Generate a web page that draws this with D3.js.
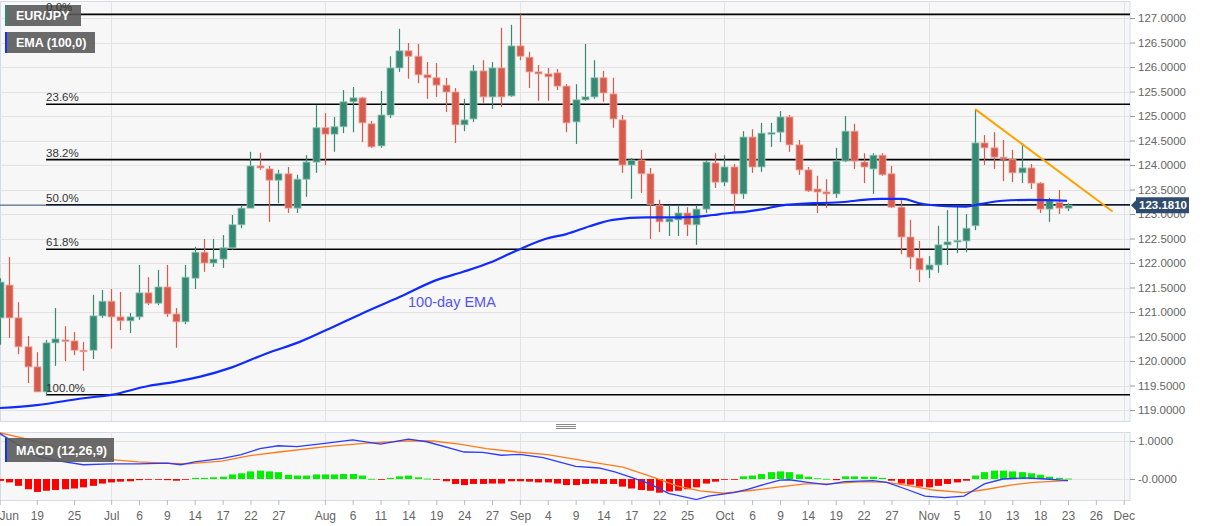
<!DOCTYPE html>
<html><head><meta charset="utf-8">
<script src="https://cdn.jsdelivr.net/npm/d3@7"></script>
<style>body{margin:0;background:#fff;}svg{display:block;font-family:"Liberation Sans",Arial,sans-serif;}</style>
</head><body><svg id="c" width="1207" height="526"></svg>
<script>
// ---------- DATA ----------
const opens=[120.88,121.55,120.88,120.29,119.88,119.37,120.37,120.43,120.41,120.22,
120.22,120.92,121.22,120.90,120.82,120.90,121.39,121.18,121.51,120.96,
120.80,121.69,122.22,122.00,122.08,122.31,122.78,123.12,123.98,123.92,
123.69,123.82,123.12,123.71,124.06,124.76,124.63,124.78,125.29,125.37,
124.84,124.39,125.02,125.98,126.33,126.22,125.84,125.78,125.63,125.49,
124.82,124.94,125.92,125.39,125.98,125.41,126.43,126.20,125.90,125.86,
125.88,125.61,124.88,125.33,125.39,125.78,125.45,124.92,124.00,124.10,
123.82,123.18,122.84,122.88,123.02,122.78,123.10,124.04,123.65,123.96,
123.41,124.57,123.96,124.64,124.67,124.98,124.41,123.90,123.51,123.45,
123.41,124.08,124.69,124.06,123.92,124.20,123.82,123.14,122.53,122.10,
121.86,121.96,122.37,122.44,122.45,122.76,124.45,124.35,124.16,124.12,
123.84,123.94,123.63,123.10,123.24,123.12];
const highs=[121.69,122.12,121.20,120.51,120.18,120.43,121.08,120.71,120.59,120.39,
121.35,121.45,121.47,121.41,120.98,121.96,121.71,121.86,121.96,121.08,
121.96,122.33,122.49,122.49,122.57,122.98,123.18,124.27,124.25,123.98,
123.90,123.96,123.80,124.20,125.22,125.06,124.98,125.53,125.59,125.39,
124.90,125.51,126.22,126.78,126.49,126.47,126.10,126.08,125.78,125.57,
125.35,126.04,126.14,126.10,126.80,126.86,127.075,126.31,126.04,125.98,
125.96,125.65,125.65,126.47,126.14,125.92,125.78,125.02,124.14,124.31,
123.94,123.29,123.18,123.16,123.14,123.18,124.10,124.24,124.20,124.02,
124.69,124.73,124.86,124.86,125.10,125.02,124.51,123.96,123.78,123.71,
124.35,125.00,124.84,124.24,124.24,124.24,123.98,123.29,122.88,122.45,
122.14,122.76,123.08,123.18,123.00,125.14,124.61,124.67,124.51,124.31,
124.45,124.02,123.65,123.33,123.49,123.22];
const lows=[120.33,120.47,120.14,119.55,119.37,119.31,119.90,120.00,120.12,119.80,
120.04,120.88,120.25,120.63,120.57,120.84,121.14,121.14,120.90,120.27,
120.75,121.47,121.82,121.92,121.90,122.27,122.71,123.12,123.90,122.84,
123.22,123.02,123.02,123.35,123.84,124.00,124.27,124.65,124.67,124.47,
124.35,124.35,124.96,125.90,125.76,125.67,125.35,125.39,125.08,124.45,
124.69,124.88,125.27,125.14,125.18,125.39,126.14,125.57,125.31,125.31,
125.53,124.67,124.43,125.31,125.35,125.29,124.76,123.84,123.31,123.43,
122.49,122.63,122.55,122.55,122.55,122.37,123.02,123.53,123.57,123.02,
123.31,123.84,123.86,124.37,124.47,124.27,123.80,123.45,123.02,123.12,
123.33,124.06,123.92,123.63,123.41,123.78,123.12,122.18,121.88,121.61,
121.69,121.80,121.96,122.20,122.22,122.67,124.00,123.92,123.67,123.65,
123.63,123.51,123.02,122.84,123.00,123.06];
const closes=[121.61,120.88,120.29,119.88,119.37,120.37,120.45,120.41,120.22,120.20,
120.92,121.22,120.90,120.82,120.90,121.39,121.18,121.51,120.96,120.80,
121.71,122.22,122.00,122.08,122.31,122.78,123.12,123.98,123.94,123.69,
123.82,123.12,123.71,124.06,124.76,124.63,124.78,125.29,125.37,124.86,
124.37,125.02,125.98,126.33,126.22,125.84,125.78,125.63,125.49,124.82,
124.92,125.92,125.39,125.98,125.39,126.43,126.22,125.90,125.86,125.80,
125.61,124.86,125.33,125.39,125.78,125.47,124.94,124.00,124.10,123.82,
123.20,122.84,122.90,123.02,122.78,123.10,124.06,123.65,123.96,123.41,
124.57,123.96,124.65,124.66,124.98,124.41,123.90,123.47,123.45,123.41,
124.08,124.69,124.08,123.96,124.20,123.80,123.14,122.53,122.12,121.86,
121.96,122.37,122.43,122.46,122.71,124.45,124.35,124.16,124.12,123.84,
123.94,123.63,123.10,123.27,123.12,123.181];

// EMA(100): [candle index, price]
const emaIdx=[0,4,9,12,16,19,21.6,25,28.8,32.3,35.6,38.8,43.1,47,49.9,52.8,55.6,58.9,61,63.5,66,69.6,73.2,75,76.8,78.6,80.4,82.2,84,85.8,87.6,89.4,91.2,93,94.8,97.2,99,102,104,105.5,108,110.9,114.9];
const emaVal=[119.04,119.10,119.24,119.31,119.49,119.58,119.68,119.87,120.16,120.39,120.67,120.95,121.31,121.65,121.82,122.01,122.25,122.50,122.59,122.75,122.88,122.93,122.93,122.94,122.98,123.02,123.05,123.10,123.17,123.20,123.22,123.23,123.25,123.29,123.31,123.31,123.22,123.16,123.15,123.20,123.27,123.29,123.27];

// MACD histogram per candle
const histVals=[-0.05,-0.09,-0.18,-0.27,-0.34,-0.31,-0.29,-0.27,-0.25,-0.22,
-0.18,-0.12,-0.09,-0.07,-0.06,-0.03,-0.02,-0.02,-0.03,-0.045,
-0.01,0.03,0.03,0.045,0.06,0.12,0.15,0.2,0.22,0.2,
0.18,0.11,0.09,0.09,0.12,0.12,0.12,0.13,0.13,0.09,
0.005,-0.01,0.03,0.07,0.09,0.045,0.01,-0.02,-0.06,-0.13,
-0.16,-0.13,-0.13,-0.12,-0.12,-0.06,-0.06,-0.07,-0.09,-0.09,
-0.12,-0.16,-0.16,-0.13,-0.12,-0.13,-0.13,-0.2,-0.25,-0.29,
-0.31,-0.36,-0.33,-0.31,-0.27,-0.22,-0.12,-0.07,-0.02,-0.02,
0.07,0.09,0.13,0.18,0.2,0.18,0.12,0.06,0.02,0.005,
-0.03,0.07,0.07,0.06,0.06,0.03,-0.045,-0.12,-0.15,-0.2,
-0.22,-0.18,-0.13,-0.09,-0.045,0.09,0.18,0.22,0.22,0.2,
0.18,0.15,0.11,0.06,0.03,0.01];
// MACD line and signal line: [candle index, value]
const macdIdx=[0,2,4,6,9,12,15,18,19.5,21,24,26,28,30,32,35,38,41,44,46,50,52,54,56,58.5,62,64.5,66.3,68,70,72,75,76.3,79,80.5,82.5,84,85,87,89,91,94,95.5,97.6,99.6,101.7,103.8,106,108,110.5,112.6,115];
const macdVal=[1.2,0.9,0.6,0.49,0.375,0.4,0.4,0.42,0.375,0.45,0.54,0.64,0.8,0.875,0.85,0.94,1.03,0.92,1.05,0.98,0.71,0.70,0.625,0.65,0.56,0.33,0.29,0.18,0.045,-0.13,-0.38,-0.54,-0.45,-0.36,-0.27,-0.13,-0.03,-0.02,-0.09,-0.15,-0.07,-0.045,-0.09,-0.27,-0.45,-0.49,-0.45,-0.13,0,0.03,0,-0.045];
const sigIdx=[0,4.2,8.3,12,14.9,17.8,20.2,23.9,26.8,30.1,35.1,39.2,43.7,46.6,49.5,52.4,55.7,59,64.4,67.1,70.4,72.9,75.4,77.9,81.3,84.2,86.7,89.6,93,95.5,98,100.5,103.8,106.3,108.8,111.3,114.9];
const sigVal=[1.22,0.98,0.69,0.51,0.45,0.42,0.4,0.47,0.61,0.71,0.85,0.94,1.0,1.0,0.92,0.8,0.71,0.64,0.42,0.31,0.045,-0.18,-0.31,-0.375,-0.29,-0.2,-0.13,-0.12,-0.07,-0.09,-0.18,-0.29,-0.36,-0.27,-0.16,-0.09,-0.045];

// Fibonacci retracement
const fibLevels=[127.075,125.24,124.11,123.19,122.28,119.31];
const fibLabels=["0.0%","23.6%","38.2%","50.0%","61.8%","100.0%"];
const fibStartIdx=5;
// Down trendline [index, price]
const trendIdx=[105,119.8];
const trendVal=[125.14,123.05];
const lastPrice=123.181;

// Axis ticks
const priceTicks=[119,119.5,120,120.5,121,121.5,122,122.5,123,123.5,124,124.5,125,125.5,126,126.5,127];
const macdTicks=[0,1];
const macdTickLabels=["-0.0000","1.0000"];
const xTickIdx=[0,4,8,12,15,18,21,24,27,30,35,38,41,44,47,50,53,56,59,62,65,68,71,74,78,81,84,87,90,93,96,100,103,106,109,112,115,118,121];
const xTickLabels=["Jun","19","25","Jul","6","9","14","17","22","27","Aug","6","11","14","19","24","27","Sep","4","9","14","17","22","25","Oct","6","9","14","19","22","27","Nov","5","10","13","18","23","26","Dec"];
const monthIdx=[12,35,56,78,100,121];

// ---------- LAYOUT ----------
const svg=d3.select('#c');
const plotR=1130, mainTop=1, mainBot=421, macdTop=432, macdBot=500;
const x=d3.scaleLinear().domain([0,115]).range([-0.35,1068]);
const y=d3.scaleLinear().domain([119,127]).range([410,18]);
const ym=d3.scaleLinear().domain([0,1]).range([479,441]);

const defs=svg.append('defs');
defs.append('clipPath').attr('id','cm').append('rect').attr('x',0).attr('y',mainTop).attr('width',plotR).attr('height',mainBot-mainTop);
defs.append('clipPath').attr('id','cd').append('rect').attr('x',0).attr('y',macdTop).attr('width',plotR).attr('height',macdBot-macdTop);

// backgrounds
svg.append('rect').attr('x',0.5).attr('y',mainTop+0.5).attr('width',plotR-0.5).attr('height',mainBot-mainTop).attr('fill','#f7f7f7').attr('stroke','#d3dbea');
svg.append('rect').attr('x',0.5).attr('y',macdTop+0.5).attr('width',plotR-0.5).attr('height',macdBot-macdTop).attr('fill','#f7f7f7').attr('stroke','#d3dbea');

const gm=svg.append('g').attr('clip-path','url(#cm)');
const gd=svg.append('g').attr('clip-path','url(#cd)');

// grids
gm.selectAll('.hg').data(priceTicks).join('line').attr('x1',0).attr('x2',plotR)
  .attr('y1',d=>Math.round(y(d))+0.5).attr('y2',d=>Math.round(y(d))+0.5).attr('stroke','#e3e3e3');
gm.selectAll('.vg').data(monthIdx).join('line').attr('x1',d=>Math.round(x(d))+0.5).attr('x2',d=>Math.round(x(d))+0.5)
  .attr('y1',mainTop).attr('y2',mainBot).attr('stroke','#e3e3e3');
gd.selectAll('.hg').data(macdTicks).join('line').attr('x1',0).attr('x2',plotR)
  .attr('y1',d=>Math.round(ym(d))+0.5).attr('y2',d=>Math.round(ym(d))+0.5).attr('stroke','#e3e3e3');
gd.selectAll('.vg').data(monthIdx).join('line').attr('x1',d=>Math.round(x(d))+0.5).attr('x2',d=>Math.round(x(d))+0.5)
  .attr('y1',macdTop).attr('y2',macdBot).attr('stroke','#e3e3e3');

// fibonacci lines
gm.selectAll('.fib').data(fibLevels).join('line').attr('x1',x(fibStartIdx)).attr('x2',plotR)
  .attr('y1',d=>y(d)).attr('y2',d=>y(d)).attr('stroke','#000').attr('stroke-width',1.6);

// last price line
gm.append('line').attr('x1',0).attr('x2',plotR).attr('y1',y(lastPrice)).attr('y2',y(lastPrice)).attr('stroke','#2d4a6b').attr('stroke-width',1);

// candles
const idx=d3.range(opens.length);
const GREEN='#368a73', RED='#d75b4c';
const cg=gm.append('g');
idx.forEach(i=>{
  const up=closes[i]>=opens[i];
  const col=up?GREEN:RED;
  const cx=Math.round(x(i))+0.5;
  cg.append('line').attr('x1',cx).attr('x2',cx).attr('y1',y(highs[i])).attr('y2',y(lows[i])).attr('stroke',col).attr('stroke-width',1.2);
  const top=y(Math.max(opens[i],closes[i])), bot=y(Math.min(opens[i],closes[i]));
  cg.append('rect').attr('x',cx-3.5).attr('y',top).attr('width',7).attr('height',Math.max(1.5,bot-top))
    .attr('fill',col).attr('stroke',up?'#8fc2b4':'#eea39a').attr('stroke-width',0.8);
});

// EMA
gm.append('path').datum(emaIdx.map((d,i)=>[d,emaVal[i]]))
  .attr('d',d3.line().x(d=>x(d[0])).y(d=>y(d[1])).curve(d3.curveMonotoneX))
  .attr('fill','none').attr('stroke','#0f2bff').attr('stroke-width',2.2);
gm.append('text').attr('x',408).attr('y',307).attr('font-size',14.5).attr('fill','#5555ee').text('100-day EMA');

// trendline
gm.append('line').attr('x1',x(trendIdx[0])).attr('y1',y(trendVal[0])).attr('x2',x(trendIdx[1])).attr('y2',y(trendVal[1]))
  .attr('stroke','#ffa200').attr('stroke-width',2);

// legends
function legend(g,x0,y0,w,h,label,bar){
  g.append('rect').attr('x',x0).attr('y',y0).attr('width',w).attr('height',h).attr('fill','#5a5a5a').attr('opacity',0.9);
  g.append('rect').attr('x',x0).attr('y',y0).attr('width',2).attr('height',h).attr('fill',bar);
  g.append('text').attr('x',x0+11).attr('y',y0+h/2+4.5).attr('fill','#fff').attr('font-size',12.5).attr('font-weight','bold').text(label);
}
legend(svg,5,5,76,21,'EUR/JPY','#2e8b73');
legend(svg,5,32,90,21,'EMA (100,0)','#1030ff');

// fibonacci labels (drawn above the legend, as in the reference)
svg.append('g').attr('clip-path','url(#cm)').selectAll('text').data(fibLevels).join('text')
  .attr('x',x(fibStartIdx)).attr('y',d=>y(d)-3)
  .attr('font-size',11.5).attr('fill','#333').text((d,i)=>fibLabels[i]);

// right price axis
const ax=svg.append('g').attr('transform',`translate(${plotR},0)`)
  .call(d3.axisRight(y).tickValues(priceTicks).tickFormat(d3.format('.4f')).tickSize(5).tickPadding(3));
ax.select('.domain').remove();
ax.selectAll('line').attr('stroke','#999');
ax.selectAll('text').attr('fill','#666').attr('font-size',11.5).attr('font-family','"Liberation Sans",Arial,sans-serif');

// current price label
const py=y(lastPrice);
svg.append('path').attr('d',`M${plotR+1},${py} L${plotR+6},${py-5} L${plotR+6},${py-8} L${plotR+59},${py-8} L${plotR+59},${py+8} L${plotR+6},${py+8} L${plotR+6},${py+5} Z`)
  .attr('fill','#2f4c6e');
svg.append('text').attr('x',plotR+33).attr('y',py+4).attr('text-anchor','middle').attr('fill','#fff').attr('font-size',11.5).attr('font-weight','bold').text(d3.format('.4f')(lastPrice));

// MACD histogram
gd.selectAll('.hb').data(idx).join('rect')
  .attr('x',i=>Math.round(x(i))-3).attr('width',7)
  .attr('y',i=>Math.min(ym(0),ym(histVals[i]))).attr('height',i=>Math.max(0.8,Math.abs(ym(histVals[i])-ym(0))))
  .attr('fill',i=>histVals[i]>=0?'#00ee00':'#ff0000');
gd.append('path').datum(sigIdx.map((d,i)=>[d,sigVal[i]]))
  .attr('d',d3.line().x(d=>x(d[0])).y(d=>ym(d[1]))).attr('fill','none').attr('stroke','#ff7b1c').attr('stroke-width',1.3);
gd.append('path').datum(macdIdx.map((d,i)=>[d,macdVal[i]]))
  .attr('d',d3.line().x(d=>x(d[0])).y(d=>ym(d[1]))).attr('fill','none').attr('stroke','#2b3cff').attr('stroke-width',1.3);
legend(svg,5,438,109,24,'MACD (12,26,9)','#1030ff');

// MACD axis
const am=svg.append('g').attr('transform',`translate(${plotR},0)`)
  .call(d3.axisRight(ym).tickValues(macdTicks).tickFormat((d,i)=>macdTickLabels[i]).tickSize(5).tickPadding(3));
am.select('.domain').remove();
am.selectAll('line').attr('stroke','#999');
am.selectAll('text').attr('fill','#666').attr('font-size',11.5).attr('font-family','"Liberation Sans",Arial,sans-serif');

// bottom axis
const bx=svg.append('g').attr('transform',`translate(0,${macdBot})`)
  .call(d3.axisBottom(x).tickValues(xTickIdx).tickFormat((d,i)=>xTickLabels[i]).tickSize(5).tickPadding(6));
bx.select('.domain').remove();
bx.selectAll('line').attr('stroke','#bbb');
bx.selectAll('text').attr('fill','#666').attr('font-size',12).attr('font-family','"Liberation Sans",Arial,sans-serif');
bx.selectAll('.tick').filter(d=>d===0).select('text').attr('x',9);

// splitter handle
[424.5,426.5,428.5].forEach(v=>svg.append('line').attr('x1',556).attr('x2',576).attr('y1',v).attr('y2',v).attr('stroke','#888').attr('stroke-width',1));
</script></body></html>
